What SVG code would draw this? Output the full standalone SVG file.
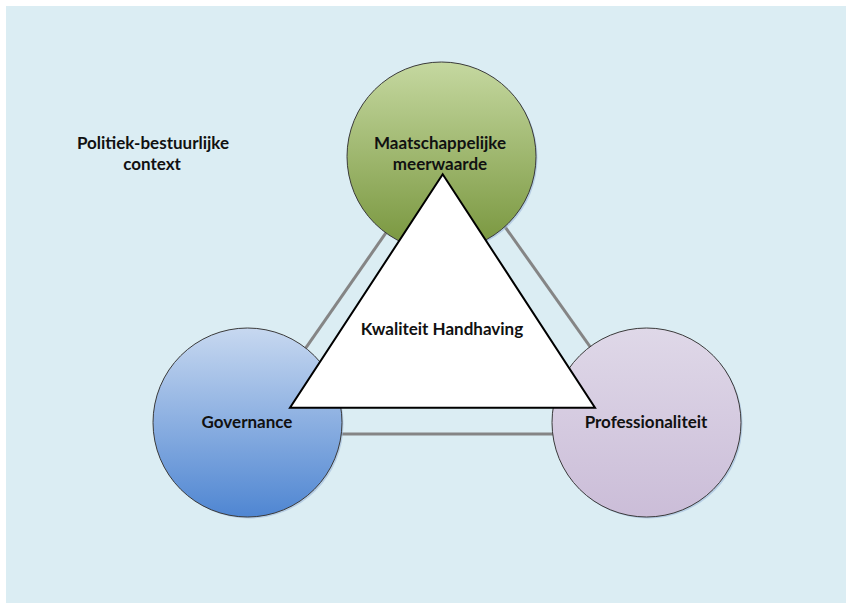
<svg xmlns="http://www.w3.org/2000/svg" width="846" height="603" viewBox="0 0 846 603">
<defs>
<linearGradient id="gGreen" x1="0" y1="0" x2="0" y2="1"><stop offset="0" stop-color="#C5D8A0"/><stop offset="1" stop-color="#77953C"/></linearGradient>
<linearGradient id="gBlue" x1="0" y1="0" x2="0" y2="1"><stop offset="0" stop-color="#C7D8F0"/><stop offset="1" stop-color="#4F86D2"/></linearGradient>
<linearGradient id="gPurple" x1="0" y1="0" x2="0" y2="1"><stop offset="0" stop-color="#DFD8E8"/><stop offset="1" stop-color="#CBBDD8"/></linearGradient>
</defs>
<style>
.lbl{font-family:Lato,"Open Sans","Liberation Sans",sans-serif;font-weight:bold;font-size:17px;fill:#111111;text-anchor:middle}
.circ{stroke:#3a3a3a;stroke-width:1}
.shadow{fill:#9DB8D8;opacity:0.6}
.conn{stroke:#858585;stroke-width:3;fill:none}
</style>
<rect x="6" y="6" width="840" height="597" fill="#DBEDF3"/>
<g id="context"><text class="lbl" x="153" y="149">Politiek-bestuurlijke</text><text class="lbl" x="152" y="170">context</text></g>
<g id="connectors">
<line class="conn" x1="447" y1="145" x2="246" y2="434"/>
<line class="conn" x1="447" y1="145" x2="652" y2="434"/>
<line class="conn" x1="246" y1="434" x2="652" y2="434"/>
</g>
<g id="maatschappelijke">
<circle class="shadow" cx="443" cy="158" r="94.5"/>
<circle class="circ" cx="441.5" cy="156.5" r="94.5" fill="url(#gGreen)"/>
<text class="lbl" x="440" y="149">Maatschappelijke</text><text class="lbl" x="440" y="170">meerwaarde</text>
</g>
<g id="governance">
<circle class="shadow" cx="249" cy="424" r="94.5"/>
<circle class="circ" cx="247.5" cy="422.5" r="94.5" fill="url(#gBlue)"/>
<text class="lbl" x="247" y="428">Governance</text>
</g>
<g id="professionaliteit">
<circle class="shadow" cx="648" cy="424" r="94.5"/>
<circle class="circ" cx="646.5" cy="422.5" r="94.5" fill="url(#gPurple)"/>
<text class="lbl" x="646" y="428">Professionaliteit</text>
</g>
<g id="kwaliteit">
<polygon points="442.7,174.3 290,407.7 595,407.7" fill="#FFFFFF" stroke="#000000" stroke-width="2" stroke-linejoin="miter"/>
<text class="lbl" x="442" y="335">Kwaliteit Handhaving</text>
</g>
</svg>
